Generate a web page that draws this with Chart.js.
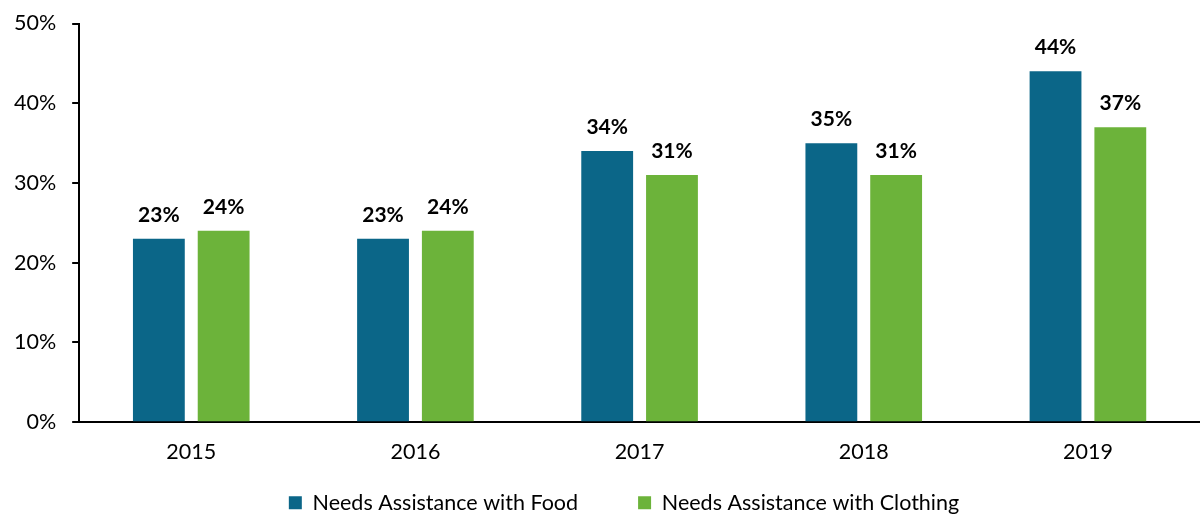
<!DOCTYPE html>
<html>
<head>
<meta charset="utf-8">
<script src="https://cdn.jsdelivr.net/npm/chart.js@4"></script>
<style>
  html, body { margin: 0; padding: 0; background: #fff; }
  #wrap { width: 1200px; height: 515px; }
</style>
</head>
<body>
<div id="wrap"><canvas id="bars"></canvas></div>
<script>
const years = ['2015', '2016', '2017', '2018', '2019'];
const food = [23, 23, 34, 35, 44];
const clothing = [24, 24, 31, 31, 37];
const yTicks = [0, 10, 20, 30, 40, 50];

const FONT = 'Lato, "Noto Sans", sans-serif';

// draws the % value above each bar
const valueLabels = {
  id: 'valueLabels',
  afterDatasetsDraw(chart) {
    const c = chart.ctx;
    c.save();
    c.font = 'bold 21px ' + FONT;
    c.fillStyle = '#000';
    c.textAlign = 'center';
    c.textBaseline = 'middle';
    chart.data.datasets.forEach((ds, i) => {
      chart.getDatasetMeta(i).data.forEach((bar, j) => {
        c.fillText(ds.data[j] + '%', bar.x, bar.y - 24);
      });
    });
    c.restore();
  }
};

// move the legend row to where the original has it
const legendShift = {
  id: 'legendShift',
  afterLayout(chart) {
    const lg = chart.legend;
    lg.left += 25;
    lg.right += 25;
    lg.top = 432;
    lg.bottom = 515;
    lg.height = 83;
  }
};

new Chart(document.getElementById('bars'), {
  type: 'bar',
  data: {
    labels: years,
    datasets: [
      { label: 'Needs Assistance with Food', data: food, backgroundColor: '#0b6688' },
      { label: 'Needs Assistance with Clothing', data: clothing, backgroundColor: '#6cb33a' }
    ]
  },
  options: {
    responsive: true,
    maintainAspectRatio: false,
    animation: false,
    categoryPercentage: 0.578,
    barPercentage: 0.8,
    layout: { padding: { top: 22, left: -2, right: 0, bottom: 0 } },
    scales: {
      x: {
        grid: { display: false },
        border: { color: '#000', width: 2 },
        ticks: { color: '#000', padding: 9, font: { family: FONT, size: 21.5 } }
      },
      y: {
        min: 0,
        max: 50,
        afterBuildTicks: (axis) => { axis.ticks = yTicks.map(v => ({ value: v })); },
        grid: { drawOnChartArea: false, drawTicks: true, tickLength: 7, color: '#000', lineWidth: 2 },
        border: { color: '#000', width: 2 },
        ticks: {
          color: '#000',
          padding: 16,
          font: { family: FONT, size: 21.5, lineHeight: 0.7 },
          callback: (v) => v + '%'
        }
      }
    },
    plugins: {
      tooltip: { enabled: false },
      legend: {
        position: 'bottom',
        maxHeight: 41,
        labels: {
          color: '#000',
          boxWidth: 13,
          boxHeight: 13,
          padding: 60,
          font: { family: FONT, size: 21.5 }
        }
      }
    }
  },
  plugins: [valueLabels, legendShift]
});
</script>
</body>
</html>
